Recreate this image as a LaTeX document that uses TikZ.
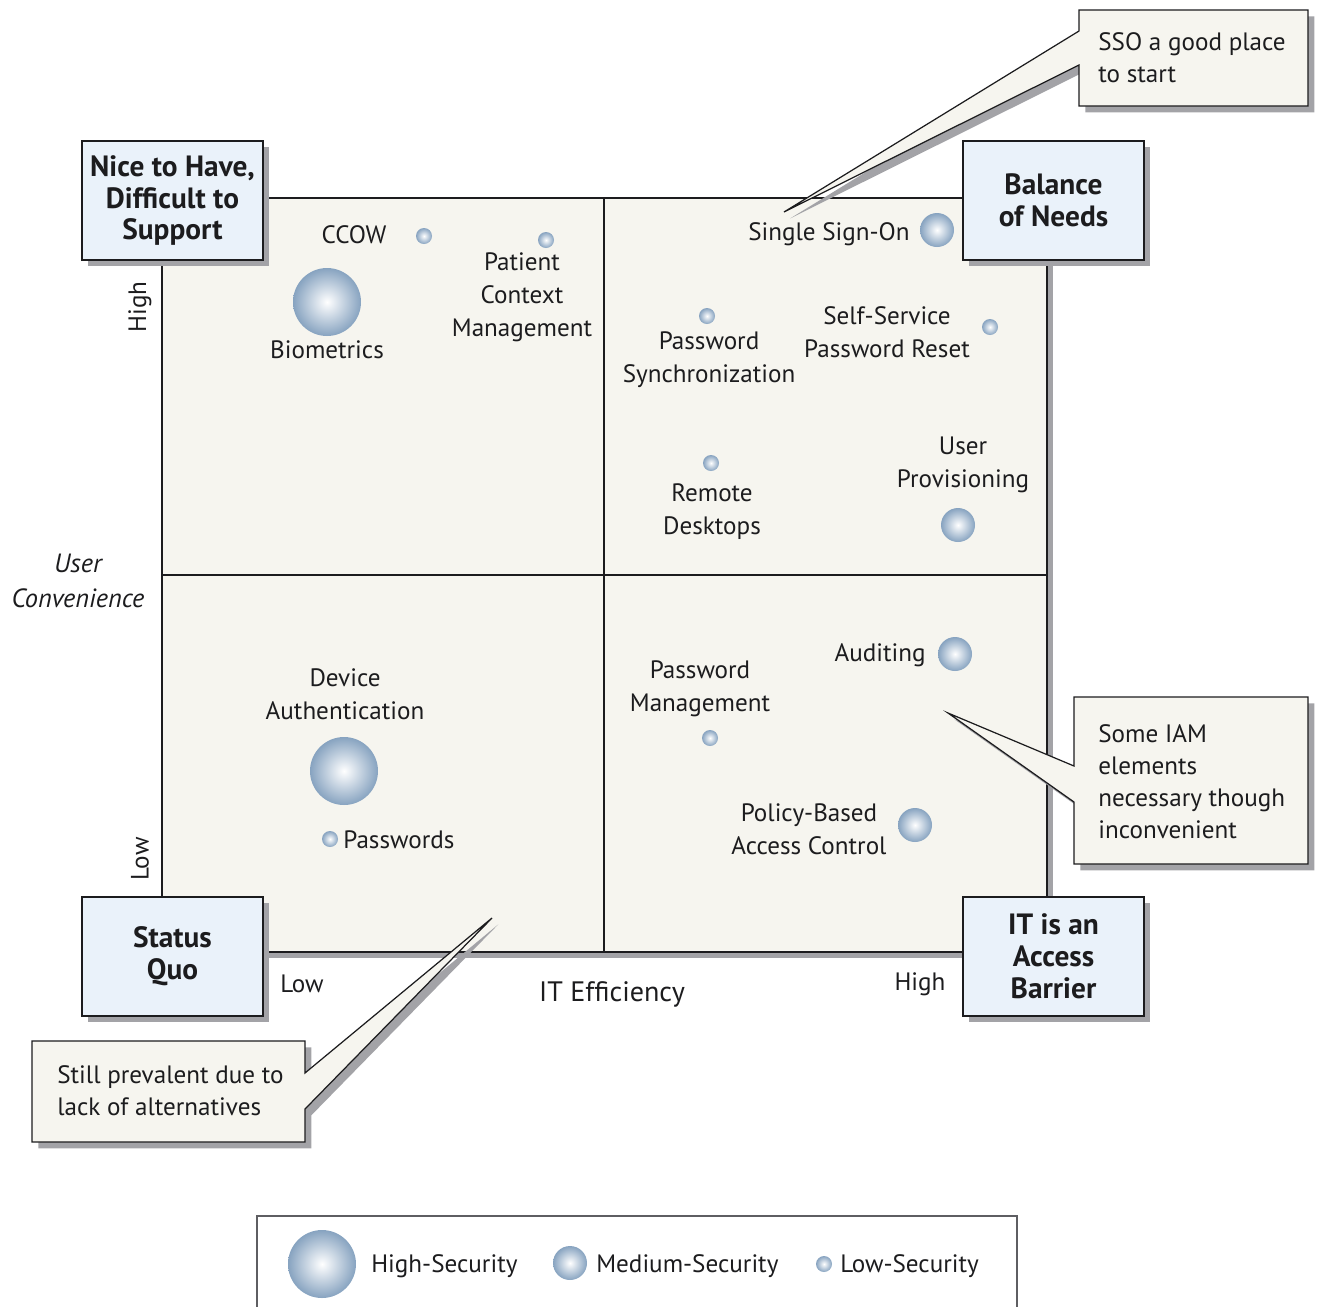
\documentclass[tikz,border=0pt]{standalone}
\usepackage{fontspec}
\setmainfont{PT Sans}
\usetikzlibrary{shadows,positioning}
\definecolor{qmInk}{HTML}{1C1C1E}
\definecolor{qmPaper}{HTML}{F6F5EF}
\definecolor{qmSky}{HTML}{EAF2FA}
\definecolor{qmShadow}{HTML}{A3A3A7}
\definecolor{qmBall}{HTML}{87A3C0}
\definecolor{qmFrame}{HTML}{5E5E62}
\tikzset{
  qm shadow/.style={general shadow={fill=qmShadow, shadow xshift=3.6pt, shadow yshift=-3.6pt}},
  qm panel/.style={draw=qmInk, fill=qmPaper, line width=.8pt, qm shadow},
  qm rule/.style={draw=qmInk, line width=.7pt},
  qm corner/.style={
    draw=qmInk, fill=qmSky, line width=.8pt, qm shadow,
    minimum width=3.62cm, minimum height=2.38cm, align=center,
    font=\bfseries\fontsize{16.7pt}{18.2pt}\selectfont, text=qmInk
  },
  qm callout/.style={draw=qmInk, fill=qmPaper, line width=.7pt, line join=miter, qm shadow},
  qm text/.style={font=\fontsize{14.3pt}{18.8pt}\selectfont, text=qmInk, align=center, inner sep=0pt},
  qm note/.style={qm text, align=left, anchor=north west, font=\fontsize{14.3pt}{18.2pt}\selectfont},
  qm ball/.style={circle, inner sep=0pt, shade, inner color=white, outer color=qmBall},
  qm high/.style={qm ball, minimum size=1.36cm},
  qm medium/.style={qm ball, minimum size=.68cm},
  qm low/.style={qm ball, minimum size=.32cm}
}

\begin{document}
\begin{tikzpicture}[x=.02cm,y=-.02cm]
  \useasboundingbox (0,0) rectangle (1322,1306);
  \coordinate (NW) at (162,198);
  \coordinate (SE) at (1047,952);
  \coordinate (Mtop) at (604,198);
  \coordinate (Mbot) at (604,952);
  \coordinate (Mleft) at (162,575);
  \coordinate (Mright) at (1047,575);

  % quadrant panel
  \draw[qm panel] (NW) rectangle (SE);
  \draw[qm rule] (Mtop) -- (Mbot);
  \draw[qm rule] (Mleft) -- (Mright);

  % callouts
  \draw[qm callout] (1079,10) -- (1308,10) -- (1308,106) -- (1079,106) -- (1079,65) -- (784,212) -- (1079,31) -- cycle;
  \draw[qm callout] (1074,697) -- (1308,697) -- (1308,864) -- (1074,864) -- (1074,802) -- (948,713) -- (1074,766) -- cycle;
  \draw[qm callout] (32,1041) -- (305,1041) -- (305,1073) -- (492,918) -- (305,1109) -- (305,1142) -- (32,1142) -- cycle;
  \node[qm note] (ssonote) at (1098,32) {SSO a good place\\to start};
  \node[qm note] (iamnote) at (1098,724) {Some IAM\\elements\\necessary though\\inconvenient};
  \node[qm note] (quonote) at (57,1065) {Still prevalent due to\\lack of alternatives};

  % corner labels
  \node[qm corner] (nice) at (172.5,200.5) {Nice to Have,\\Difficult to\\Support};
  \node[qm corner] (balance) at (1053.5,200.5) {Balance\\of Needs};
  \node[qm corner] (status) at (172.5,956.5) {Status\\Quo};
  \node[qm corner] (barrier) at (1053.5,956.5) {IT is an\\Access\\Barrier};

  % bubbles
  \node[qm low] (ccowball) at (424,236) {};
  \node[qm low] (pcmball) at (546,240) {};
  \node[qm high] (bioball) at (327,302) {};
  \node[qm medium] (ssoball) at (937,230) {};
  \node[qm low] (psyncball) at (707,316) {};
  \node[qm low] (ssprball) at (990,327) {};
  \node[qm low] (remoteball) at (711,463) {};
  \node[qm medium] (provball) at (958,525) {};
  \node[qm medium] (auditball) at (955,654) {};
  \node[qm low] (pwmball) at (710,738) {};
  \node[qm high] (devball) at (344,771) {};
  \node[qm low] (pwball) at (330,839) {};
  \node[qm medium] (pbacball) at (915,825) {};

  % item labels
  \node[qm text] (ccow) at (354,235) {CCOW};
  \node[qm text] (pcm) at (522,297) {Patient\\Context\\Management};
  \node[qm text] (bio) at (327,350) {Biometrics};
  \node[qm text, anchor=east] (sso) at (910,234) {Single Sign-On};
  \node[qm text] (psync) at (709,360) {Password\\Synchronization};
  \node[qm text] (sspr) at (887,332) {Self-Service\\Password Reset};
  \node[qm text] (remote) at (712,512) {Remote\\Desktops};
  \node[qm text] (prov) at (963,465) {User\\Provisioning};
  \node[qm text, anchor=east] (audit) at (926,655) {Auditing};
  \node[qm text] (pwm) at (700,689) {Password\\Management};
  \node[qm text] (dev) at (345,694) {Device\\Authentication};
  \node[qm text, anchor=west] (pw) at (343,840) {Passwords};
  \node[qm text] (pbac) at (809,829) {Policy-Based\\Access Control};

  % axes
  \node[qm text, rotate=90] (yhigh) at (140,307) {High};
  \node[qm text, rotate=90] (ylow) at (140,859) {Low};
  \node[qm text, font=\itshape\fontsize{15pt}{20pt}\selectfont] (yaxis) at (78,581) {User\\Convenience};
  \node[qm text] (xlow) at (302,984) {Low};
  \node[qm text, font=\fontsize{16pt}{19pt}\selectfont] (xaxis) at (612,994) {IT Efficiency};
  \node[qm text] (xhigh) at (920,984) {High};

  % legend
  \draw[draw=qmFrame, line width=.8pt] (257,1330) -- (257,1216) -- (1017,1216) -- (1017,1330);
  \node[qm high] (keyhigh) at (322,1264) {};
  \node[qm medium] (keymed) at (570,1263) {};
  \node[qm low] (keylow) at (824,1264) {};
  \node[qm text, anchor=west] (keyhightxt) at (371,1266) {High-Security};
  \node[qm text, anchor=west] (keymedtxt) at (596,1266) {Medium-Security};
  \node[qm text, anchor=west] (keylowtxt) at (840,1266) {Low-Security};
\end{tikzpicture}
\end{document}
